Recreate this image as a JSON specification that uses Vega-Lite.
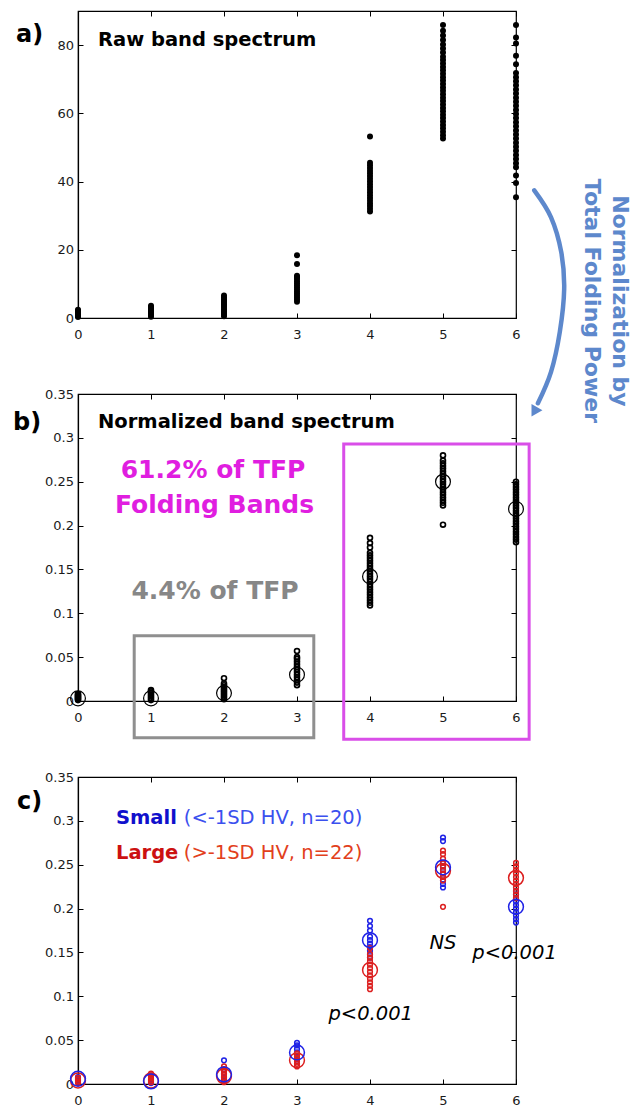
{
  "$schema": "https://vega.github.io/schema/vega-lite/v6.json",
  "background": "white",
  "padding": {"left": 12, "top": 9, "right": 0, "bottom": 0},
  "autosize": {"type": "pad"},
  "spacing": 76,
  "bounds": "flush",
  "config": {
    "font": "DejaVu Sans",
    "view": {"stroke": "#000", "strokeWidth": 1.2},
    "axis": {"grid": false, "domainColor": "#000", "domainWidth": 1.2, "tickColor": "#000", "tickWidth": 1, "tickSize": -5, "labelFont": "DejaVu Sans", "labelFontSize": 13, "labelColor": "#1a1a1a"},
    "axisX": {"labelPadding": 15, "labelFlush": false},
    "axisY": {"labelPadding": 9.5}
  },
  "datasets": {
    "raw": [
      {"band":0,"v":0.3},{"band":0,"v":0.6},{"band":0,"v":0.9},{"band":0,"v":1.2},{"band":0,"v":1.5},{"band":0,"v":1.8},{"band":0,"v":2.1},{"band":0,"v":2.4},
      {"band":1,"v":0.4},{"band":1,"v":0.8},{"band":1,"v":1.2},{"band":1,"v":1.6},{"band":1,"v":2.0},{"band":1,"v":2.4},{"band":1,"v":2.8},{"band":1,"v":3.2},{"band":1,"v":3.6},
      {"band":2,"v":0.5},{"band":2,"v":1.0},{"band":2,"v":1.5},{"band":2,"v":2.0},{"band":2,"v":2.5},{"band":2,"v":3.0},{"band":2,"v":3.5},{"band":2,"v":4.0},{"band":2,"v":4.5},{"band":2,"v":5.0},{"band":2,"v":5.5},{"band":2,"v":6.0},{"band":2,"v":6.6},
      {"band":3,"v":4.8},{"band":3,"v":5.4},{"band":3,"v":6.0},{"band":3,"v":6.6},{"band":3,"v":7.2},{"band":3,"v":7.8},{"band":3,"v":8.4},{"band":3,"v":9.0},{"band":3,"v":9.6},{"band":3,"v":10.2},{"band":3,"v":10.8},{"band":3,"v":11.4},{"band":3,"v":12.0},{"band":3,"v":12.4},{"band":3,"v":15.8},{"band":3,"v":18.4},
      {"band":4,"v":31.2},{"band":4,"v":32.0},{"band":4,"v":32.8},{"band":4,"v":33.6},{"band":4,"v":34.4},{"band":4,"v":35.2},{"band":4,"v":36.0},{"band":4,"v":36.8},{"band":4,"v":37.6},{"band":4,"v":38.4},{"band":4,"v":39.2},{"band":4,"v":40.0},{"band":4,"v":40.8},{"band":4,"v":41.6},{"band":4,"v":42.4},{"band":4,"v":43.2},{"band":4,"v":44.0},{"band":4,"v":44.8},{"band":4,"v":45.5},{"band":4,"v":53.2},
      {"band":5,"v":52.6},{"band":5,"v":53.6},{"band":5,"v":54.6},{"band":5,"v":55.6},{"band":5,"v":56.6},{"band":5,"v":57.6},{"band":5,"v":58.6},{"band":5,"v":59.6},{"band":5,"v":60.6},{"band":5,"v":61.6},{"band":5,"v":62.6},{"band":5,"v":63.6},{"band":5,"v":64.6},{"band":5,"v":65.6},{"band":5,"v":66.6},{"band":5,"v":67.6},{"band":5,"v":68.6},{"band":5,"v":69.6},{"band":5,"v":70.6},{"band":5,"v":71.6},{"band":5,"v":72.6},{"band":5,"v":73.6},{"band":5,"v":74.6},{"band":5,"v":75.6},{"band":5,"v":76.6},{"band":5,"v":77.8},{"band":5,"v":79.0},{"band":5,"v":80.2},{"band":5,"v":81.5},{"band":5,"v":82.8},{"band":5,"v":84.2},{"band":5,"v":85.9},
      {"band":6,"v":35.4},{"band":6,"v":39.6},{"band":6,"v":41.8},{"band":6,"v":44.2},{"band":6,"v":45.4},{"band":6,"v":46.6},{"band":6,"v":47.8},{"band":6,"v":49.0},{"band":6,"v":50.2},{"band":6,"v":51.4},{"band":6,"v":52.6},{"band":6,"v":53.8},{"band":6,"v":55.0},{"band":6,"v":56.2},{"band":6,"v":57.4},{"band":6,"v":58.6},{"band":6,"v":59.8},{"band":6,"v":61.0},{"band":6,"v":62.2},{"band":6,"v":63.4},{"band":6,"v":64.6},{"band":6,"v":65.8},{"band":6,"v":67.0},{"band":6,"v":68.2},{"band":6,"v":69.4},{"band":6,"v":70.6},{"band":6,"v":71.8},{"band":6,"v":74.4},{"band":6,"v":76.9},{"band":6,"v":80.5},{"band":6,"v":82.2},{"band":6,"v":85.9}
    ],
    "norm": [
      {"band":0,"v":0.001},{"band":0,"v":0.002},{"band":0,"v":0.003},{"band":0,"v":0.004},{"band":0,"v":0.005},{"band":0,"v":0.006},{"band":0,"v":0.007},{"band":0,"v":0.008},
      {"band":1,"v":0.001},{"band":1,"v":0.003},{"band":1,"v":0.005},{"band":1,"v":0.007},{"band":1,"v":0.009},{"band":1,"v":0.011},{"band":1,"v":0.0125},
      {"band":2,"v":0.002},{"band":2,"v":0.004},{"band":2,"v":0.006},{"band":2,"v":0.008},{"band":2,"v":0.010},{"band":2,"v":0.012},{"band":2,"v":0.014},{"band":2,"v":0.016},{"band":2,"v":0.018},{"band":2,"v":0.020},{"band":2,"v":0.026},
      {"band":3,"v":0.018},{"band":3,"v":0.021},{"band":3,"v":0.024},{"band":3,"v":0.027},{"band":3,"v":0.030},{"band":3,"v":0.033},{"band":3,"v":0.036},{"band":3,"v":0.039},{"band":3,"v":0.042},{"band":3,"v":0.045},{"band":3,"v":0.048},{"band":3,"v":0.050},{"band":3,"v":0.057},
      {"band":4,"v":0.109},{"band":4,"v":0.112},{"band":4,"v":0.115},{"band":4,"v":0.118},{"band":4,"v":0.121},{"band":4,"v":0.124},{"band":4,"v":0.127},{"band":4,"v":0.130},{"band":4,"v":0.133},{"band":4,"v":0.136},{"band":4,"v":0.139},{"band":4,"v":0.142},{"band":4,"v":0.145},{"band":4,"v":0.148},{"band":4,"v":0.151},{"band":4,"v":0.154},{"band":4,"v":0.157},{"band":4,"v":0.160},{"band":4,"v":0.163},{"band":4,"v":0.166},{"band":4,"v":0.169},{"band":4,"v":0.175},{"band":4,"v":0.180},{"band":4,"v":0.186},
      {"band":5,"v":0.201},{"band":5,"v":0.223},{"band":5,"v":0.226},{"band":5,"v":0.229},{"band":5,"v":0.232},{"band":5,"v":0.235},{"band":5,"v":0.238},{"band":5,"v":0.241},{"band":5,"v":0.244},{"band":5,"v":0.247},{"band":5,"v":0.250},{"band":5,"v":0.253},{"band":5,"v":0.256},{"band":5,"v":0.259},{"band":5,"v":0.262},{"band":5,"v":0.265},{"band":5,"v":0.268},{"band":5,"v":0.271},{"band":5,"v":0.274},{"band":5,"v":0.280},
      {"band":6,"v":0.181},{"band":6,"v":0.184},{"band":6,"v":0.187},{"band":6,"v":0.190},{"band":6,"v":0.193},{"band":6,"v":0.196},{"band":6,"v":0.199},{"band":6,"v":0.202},{"band":6,"v":0.205},{"band":6,"v":0.208},{"band":6,"v":0.211},{"band":6,"v":0.214},{"band":6,"v":0.217},{"band":6,"v":0.220},{"band":6,"v":0.223},{"band":6,"v":0.226},{"band":6,"v":0.229},{"band":6,"v":0.232},{"band":6,"v":0.235},{"band":6,"v":0.238},{"band":6,"v":0.241},{"band":6,"v":0.244},{"band":6,"v":0.247},{"band":6,"v":0.250}
    ],
    "normMean": [
      {"band":0,"v":0.003},{"band":1,"v":0.003},{"band":2,"v":0.009},{"band":3,"v":0.030},{"band":4,"v":0.142},{"band":5,"v":0.250},{"band":6,"v":0.219}
    ],
    "grp": [
      {"band":0,"g":"Small","v":0.002},{"band":0,"g":"Small","v":0.004},{"band":0,"g":"Small","v":0.006},{"band":0,"g":"Small","v":0.008},
      {"band":1,"g":"Small","v":0.001},{"band":1,"g":"Small","v":0.003},{"band":1,"g":"Small","v":0.005},
      {"band":2,"g":"Small","v":0.004},{"band":2,"g":"Small","v":0.008},{"band":2,"g":"Small","v":0.012},{"band":2,"g":"Small","v":0.016},{"band":2,"g":"Small","v":0.027},
      {"band":3,"g":"Small","v":0.028},{"band":3,"g":"Small","v":0.032},{"band":3,"g":"Small","v":0.036},{"band":3,"g":"Small","v":0.040},{"band":3,"g":"Small","v":0.044},{"band":3,"g":"Small","v":0.047},
      {"band":4,"g":"Small","v":0.144},{"band":4,"g":"Small","v":0.148},{"band":4,"g":"Small","v":0.152},{"band":4,"g":"Small","v":0.156},{"band":4,"g":"Small","v":0.160},{"band":4,"g":"Small","v":0.164},{"band":4,"g":"Small","v":0.168},{"band":4,"g":"Small","v":0.175},{"band":4,"g":"Small","v":0.180},{"band":4,"g":"Small","v":0.186},
      {"band":5,"g":"Small","v":0.224},{"band":5,"g":"Small","v":0.228},{"band":5,"g":"Small","v":0.232},{"band":5,"g":"Small","v":0.236},{"band":5,"g":"Small","v":0.240},{"band":5,"g":"Small","v":0.244},{"band":5,"g":"Small","v":0.248},{"band":5,"g":"Small","v":0.252},{"band":5,"g":"Small","v":0.277},{"band":5,"g":"Small","v":0.281},
      {"band":6,"g":"Small","v":0.184},{"band":6,"g":"Small","v":0.188},{"band":6,"g":"Small","v":0.192},{"band":6,"g":"Small","v":0.196},{"band":6,"g":"Small","v":0.200},{"band":6,"g":"Small","v":0.204},{"band":6,"g":"Small","v":0.208},{"band":6,"g":"Small","v":0.212},{"band":6,"g":"Small","v":0.216},{"band":6,"g":"Small","v":0.220},
      {"band":0,"g":"Large","v":0.001},{"band":0,"g":"Large","v":0.003},{"band":0,"g":"Large","v":0.005},{"band":0,"g":"Large","v":0.007},
      {"band":1,"g":"Large","v":0.002},{"band":1,"g":"Large","v":0.004},{"band":1,"g":"Large","v":0.006},{"band":1,"g":"Large","v":0.008},{"band":1,"g":"Large","v":0.010},{"band":1,"g":"Large","v":0.012},
      {"band":2,"g":"Large","v":0.002},{"band":2,"g":"Large","v":0.005},{"band":2,"g":"Large","v":0.008},{"band":2,"g":"Large","v":0.011},{"band":2,"g":"Large","v":0.014},{"band":2,"g":"Large","v":0.017},{"band":2,"g":"Large","v":0.020},
      {"band":3,"g":"Large","v":0.020},{"band":3,"g":"Large","v":0.023},{"band":3,"g":"Large","v":0.026},{"band":3,"g":"Large","v":0.029},{"band":3,"g":"Large","v":0.032},{"band":3,"g":"Large","v":0.035},
      {"band":4,"g":"Large","v":0.108},{"band":4,"g":"Large","v":0.112},{"band":4,"g":"Large","v":0.116},{"band":4,"g":"Large","v":0.120},{"band":4,"g":"Large","v":0.124},{"band":4,"g":"Large","v":0.128},{"band":4,"g":"Large","v":0.132},{"band":4,"g":"Large","v":0.136},{"band":4,"g":"Large","v":0.140},{"band":4,"g":"Large","v":0.144},{"band":4,"g":"Large","v":0.148},{"band":4,"g":"Large","v":0.155},
      {"band":5,"g":"Large","v":0.202},{"band":5,"g":"Large","v":0.232},{"band":5,"g":"Large","v":0.236},{"band":5,"g":"Large","v":0.240},{"band":5,"g":"Large","v":0.244},{"band":5,"g":"Large","v":0.248},{"band":5,"g":"Large","v":0.252},{"band":5,"g":"Large","v":0.257},{"band":5,"g":"Large","v":0.262},{"band":5,"g":"Large","v":0.266},
      {"band":6,"g":"Large","v":0.212},{"band":6,"g":"Large","v":0.216},{"band":6,"g":"Large","v":0.220},{"band":6,"g":"Large","v":0.224},{"band":6,"g":"Large","v":0.228},{"band":6,"g":"Large","v":0.232},{"band":6,"g":"Large","v":0.236},{"band":6,"g":"Large","v":0.240},{"band":6,"g":"Large","v":0.244},{"band":6,"g":"Large","v":0.248},{"band":6,"g":"Large","v":0.252}
    ],
    "grpMean": [
      {"band":0,"g":"Large","v":0.004},{"band":1,"g":"Large","v":0.004},{"band":2,"g":"Large","v":0.009},{"band":3,"g":"Large","v":0.027},{"band":4,"g":"Large","v":0.130},{"band":5,"g":"Large","v":0.243},{"band":6,"g":"Large","v":0.235},
      {"band":0,"g":"Small","v":0.006},{"band":1,"g":"Small","v":0.003},{"band":2,"g":"Small","v":0.011},{"band":3,"g":"Small","v":0.036},{"band":4,"g":"Small","v":0.164},{"band":5,"g":"Small","v":0.247},{"band":6,"g":"Small","v":0.202}
    ],
    "arrow": [
      {"i":0,"ax":6.25,"ay":37.4},{"i":1,"ax":6.48,"ay":29.5},{"i":2,"ax":6.62,"ay":19.3},{"i":3,"ax":6.66,"ay":8.5},{"i":4,"ax":6.60,"ay":-4.1},{"i":5,"ax":6.48,"ay":-15.8},{"i":6,"ax":6.30,"ay":-25.0}
    ],
    "one": [{}]
  },
  "vconcat": [
    {
      "width": 438, "height": 307,
      "layer": [
        {"data": {"name": "raw"},
         "mark": {"type": "point", "filled": true, "color": "#000", "size": 36, "opacity": 1},
         "encoding": {
           "x": {"field": "band", "type": "quantitative", "scale": {"domain": [0, 6], "nice": false, "zero": false}, "axis": {"orient": "bottom", "values": [0,1,2,3,4,5,6], "title": null}},
           "y": {"field": "v", "type": "quantitative", "scale": {"domain": [0, 90], "nice": false}, "axis": {"orient": "left", "values": [0,20,40,60,80], "title": null}}
         }},
        {"data": {"name": "arrow"},
         "mark": {"type": "line", "interpolate": "cardinal", "color": "#5d88cc", "strokeWidth": 4.5, "strokeCap": "round"},
         "encoding": {
           "x": {"field": "ax", "type": "quantitative", "axis": {"orient": "top", "values": [0,1,2,3,4,5,6], "labels": false, "domain": false, "title": null}},
           "y": {"field": "ay", "type": "quantitative", "axis": {"orient": "right", "values": [0,20,40,60,80], "labels": false, "domain": false, "title": null}},
           "order": {"field": "i", "type": "quantitative"}
         }},
        {"data": {"name": "one"},
         "mark": {"type": "point", "shape": "triangle-up", "filled": true, "color": "#5d88cc", "size": 160, "angle": 210, "opacity": 1},
         "encoding": {"x": {"datum": 6.25, "axis": null}, "y": {"datum": -27.5, "axis": null}}},
        {"data": {"name": "one"},
         "mark": {"type": "text", "text": "a)", "fontWeight": "bold", "fontSize": 24, "align": "left", "baseline": "alphabetic", "color": "#000"},
         "encoding": {"x": {"datum": -0.85, "axis": null}, "y": {"datum": 80.9, "axis": null}}},
        {"data": {"name": "one"},
         "mark": {"type": "text", "text": "Raw band spectrum", "fontWeight": "bold", "fontSize": 19.5, "align": "left", "baseline": "alphabetic", "color": "#000"},
         "encoding": {"x": {"datum": 0.274, "axis": null}, "y": {"datum": 79.8, "axis": null}}},
        {"data": {"name": "one"},
         "mark": {"type": "text", "text": "Normalization by", "fontWeight": "bold", "fontSize": 22, "align": "center", "baseline": "middle", "angle": 90, "color": "#5d88cc"},
         "encoding": {"x": {"datum": 7.42, "axis": null}, "y": {"datum": 5.0, "axis": null}}},
        {"data": {"name": "one"},
         "mark": {"type": "text", "text": "Total Folding Power", "fontWeight": "bold", "fontSize": 22, "align": "center", "baseline": "middle", "angle": 90, "color": "#5d88cc"},
         "encoding": {"x": {"datum": 7.04, "axis": null}, "y": {"datum": 5.0, "axis": null}}}
      ]
    },
    {
      "width": 438, "height": 307,
      "layer": [
        {"data": {"name": "norm"},
         "mark": {"type": "point", "filled": false, "color": "#000", "size": 24, "strokeWidth": 1.7, "opacity": 1},
         "encoding": {
           "x": {"field": "band", "type": "quantitative", "scale": {"domain": [0, 6], "nice": false, "zero": false}, "axis": {"orient": "bottom", "values": [0,1,2,3,4,5,6], "title": null}},
           "y": {"field": "v", "type": "quantitative", "scale": {"domain": [0, 0.35], "nice": false}, "axis": {"orient": "left", "values": [0,0.05,0.1,0.15,0.2,0.25,0.3,0.35], "format": ".2~f", "title": null}}
         }},
        {"data": {"name": "normMean"},
         "mark": {"type": "point", "filled": false, "color": "#000", "size": 220, "strokeWidth": 1.2, "opacity": 1},
         "encoding": {
           "x": {"field": "band", "type": "quantitative", "axis": {"orient": "top", "values": [0,1,2,3,4,5,6], "labels": false, "domain": false, "title": null}},
           "y": {"field": "v", "type": "quantitative", "axis": {"orient": "right", "values": [0,0.05,0.1,0.15,0.2,0.25,0.3,0.35], "labels": false, "domain": false, "title": null}}
         }},
        {"data": {"name": "one"},
         "mark": {"type": "rect", "filled": false, "stroke": "#8f8f8f", "strokeWidth": 3},
         "encoding": {"x": {"datum": 0.77, "axis": null}, "x2": {"datum": 3.23}, "y": {"datum": 0.0744, "axis": null}, "y2": {"datum": -0.042}}},
        {"data": {"name": "one"},
         "mark": {"type": "rect", "filled": false, "stroke": "#d94ee8", "strokeWidth": 3},
         "encoding": {"x": {"datum": 3.64, "axis": null}, "x2": {"datum": 6.18}, "y": {"datum": 0.293, "axis": null}, "y2": {"datum": -0.0435}}},
        {"data": {"name": "one"},
         "mark": {"type": "text", "text": "b)", "fontWeight": "bold", "fontSize": 24, "align": "left", "baseline": "alphabetic", "color": "#000"},
         "encoding": {"x": {"datum": -0.89, "axis": null}, "y": {"datum": 0.3086, "axis": null}}},
        {"data": {"name": "one"},
         "mark": {"type": "text", "text": "Normalized band spectrum", "fontWeight": "bold", "fontSize": 19.5, "align": "left", "baseline": "alphabetic", "color": "#000"},
         "encoding": {"x": {"datum": 0.274, "axis": null}, "y": {"datum": 0.311, "axis": null}}},
        {"data": {"name": "one"},
         "mark": {"type": "text", "text": "61.2% of TFP", "fontWeight": "bold", "fontSize": 25, "align": "center", "baseline": "alphabetic", "color": "#e01ee0"},
         "encoding": {"x": {"datum": 1.85, "axis": null}, "y": {"datum": 0.254, "axis": null}}},
        {"data": {"name": "one"},
         "mark": {"type": "text", "text": "Folding Bands", "fontWeight": "bold", "fontSize": 25, "align": "center", "baseline": "alphabetic", "color": "#e01ee0"},
         "encoding": {"x": {"datum": 1.87, "axis": null}, "y": {"datum": 0.2143, "axis": null}}},
        {"data": {"name": "one"},
         "mark": {"type": "text", "text": "4.4% of TFP", "fontWeight": "bold", "fontSize": 25, "align": "center", "baseline": "alphabetic", "color": "#878787"},
         "encoding": {"x": {"datum": 1.877, "axis": null}, "y": {"datum": 0.1167, "axis": null}}}
      ]
    },
    {
      "width": 438, "height": 307,
      "layer": [
        {"data": {"name": "grp"},
         "mark": {"type": "point", "filled": false, "size": 22, "strokeWidth": 1.5, "opacity": 1},
         "encoding": {
           "x": {"field": "band", "type": "quantitative", "scale": {"domain": [0, 6], "nice": false, "zero": false}, "axis": {"orient": "bottom", "values": [0,1,2,3,4,5,6], "title": null}},
           "y": {"field": "v", "type": "quantitative", "scale": {"domain": [0, 0.35], "nice": false}, "axis": {"orient": "left", "values": [0,0.05,0.1,0.15,0.2,0.25,0.3,0.35], "format": ".2~f", "title": null}},
           "color": {"field": "g", "type": "nominal", "scale": {"domain": ["Small", "Large"], "range": ["#1f22e6", "#dc1f1f"]}, "legend": null}
         }},
        {"data": {"name": "grpMean"},
         "mark": {"type": "point", "filled": false, "size": 220, "strokeWidth": 1.5, "opacity": 1},
         "encoding": {
           "x": {"field": "band", "type": "quantitative", "axis": {"orient": "top", "values": [0,1,2,3,4,5,6], "labels": false, "domain": false, "title": null}},
           "y": {"field": "v", "type": "quantitative", "axis": {"orient": "right", "values": [0,0.05,0.1,0.15,0.2,0.25,0.3,0.35], "labels": false, "domain": false, "title": null}},
           "color": {"field": "g", "type": "nominal", "legend": null}
         }},
        {"data": {"name": "one"},
         "mark": {"type": "text", "text": "c)", "fontWeight": "bold", "fontSize": 24, "align": "left", "baseline": "alphabetic", "color": "#000"},
         "encoding": {"x": {"datum": -0.836, "axis": null}, "y": {"datum": 0.3136, "axis": null}}},
        {"data": {"name": "one"},
         "mark": {"type": "text", "text": "Small", "fontWeight": "bold", "fontSize": 19.5, "align": "left", "baseline": "alphabetic", "color": "#1010cc"},
         "encoding": {"x": {"datum": 0.52, "axis": null}, "y": {"datum": 0.2968, "axis": null}}},
        {"data": {"name": "one"},
         "mark": {"type": "text", "text": "(<-1SD HV, n=20)", "fontSize": 19.5, "align": "left", "baseline": "alphabetic", "color": "#3b50ee"},
         "encoding": {"x": {"datum": 1.45, "axis": null}, "y": {"datum": 0.2968, "axis": null}}},
        {"data": {"name": "one"},
         "mark": {"type": "text", "text": "Large", "fontWeight": "bold", "fontSize": 19.5, "align": "left", "baseline": "alphabetic", "color": "#cc1111"},
         "encoding": {"x": {"datum": 0.52, "axis": null}, "y": {"datum": 0.2569, "axis": null}}},
        {"data": {"name": "one"},
         "mark": {"type": "text", "text": "(>-1SD HV, n=22)", "fontSize": 19.5, "align": "left", "baseline": "alphabetic", "color": "#e2401c"},
         "encoding": {"x": {"datum": 1.45, "axis": null}, "y": {"datum": 0.2569, "axis": null}}},
        {"data": {"name": "one"},
         "mark": {"type": "text", "text": "p<0.001", "fontStyle": "italic", "fontSize": 19.5, "align": "center", "baseline": "alphabetic", "color": "#000"},
         "encoding": {"x": {"datum": 4.01, "axis": null}, "y": {"datum": 0.0733, "axis": null}}},
        {"data": {"name": "one"},
         "mark": {"type": "text", "text": "NS", "fontStyle": "italic", "fontSize": 19.5, "align": "center", "baseline": "alphabetic", "color": "#000"},
         "encoding": {"x": {"datum": 5.0, "axis": null}, "y": {"datum": 0.1543, "axis": null}}},
        {"data": {"name": "one"},
         "mark": {"type": "text", "text": "p<0.001", "fontStyle": "italic", "fontSize": 19.5, "align": "center", "baseline": "alphabetic", "color": "#000"},
         "encoding": {"x": {"datum": 5.98, "axis": null}, "y": {"datum": 0.1429, "axis": null}}}
      ]
    }
  ]
}
